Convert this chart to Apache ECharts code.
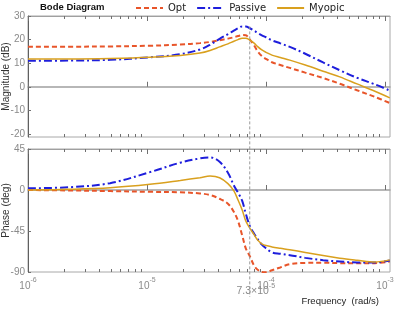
<!DOCTYPE html>
<html>
<head>
<meta charset="utf-8">
<script src="https://cdn.jsdelivr.net/npm/echarts@6/dist/echarts.min.js"></script>
<style>html,body{margin:0;padding:0;background:#fff}#c{width:394px;height:314px}</style>
</head>
<body>
<div id="c"></div>
<script>
// frequency as log10(rad/s)
var freqExp = [-6.00,-5.65,-5.31,-4.975,-4.72,-4.555,-4.47,-4.39,-4.32,-4.27,-4.235,-4.20,-4.17,-4.135,-4.10,-4.07,-4.035,-4.00,-3.95,-3.88,-3.80,-3.67,-3.52,-3.38,-3.235,-3.085,-2.96];
var magOpt     = [17.0,17.0,17.1,17.4,17.9,18.5,19.0,19.7,20.4,21.0,21.5,21.9,21.8,20.0,17.5,15.0,13.0,11.8,10.4,9.2,8.0,6.0,3.7,1.3,-1.5,-4.3,-6.9];
var magPassive = [11.0,11.1,11.4,12.5,13.8,15.8,17.8,20.3,22.3,23.8,24.8,25.6,25.6,24.8,23.8,22.8,21.8,21.0,19.7,18.4,16.9,14.0,10.3,7.0,3.8,1.0,-1.6];
var magMyopic  = [11.8,11.8,12.0,12.5,13.3,14.3,15.4,16.9,18.2,19.3,20.0,20.6,20.6,19.8,18.5,17.0,15.6,14.6,13.4,12.4,11.3,9.2,6.6,4.2,1.2,-1.9,-4.7];
var phOpt      = [0,-0.5,-1.2,-2,-2.5,-3.8,-5.5,-9.6,-15,-24,-34,-50,-64,-73,-83,-87.5,-90,-90.3,-88,-85,-81.4,-80,-79.8,-80.3,-80.5,-80.3,-78.5];
var phPassive  = [1.9,3.0,7.5,19.6,30.0,34.7,35.8,31.0,19,5,-3,-12,-26,-40,-48,-54,-60,-64,-68.5,-70,-71.5,-74.5,-77,-78.5,-79.5,-79.5,-77.4];
var phMyopic   = [0,0.8,2.5,6.3,10.5,13.5,15.3,13.5,7,-1,-11,-22,-34,-42,-49,-55,-59,-61,-62.5,-64,-65.6,-68.5,-72,-74.8,-77,-79,-76.7];
var seriesNames = ['Opt','Passive','Myopic'];
var magTicks = [-20,-10,0,10,20,30];
var phaseTicks = [-90,-45,0,45];
var majorExp = [-6,-5,-4,-3];
var markerFreq = 7.3e-5;
var markerLabel = '7.3×10';
var markerLabelExp = '-5';

var minorExp = [];
[-6,-5,-4].forEach(function(d){ for (var k=2;k<=9;k++) minorExp.push(d+Math.log10(k)); });
var markerExp = Math.log10(markerFreq);

var colors = {Opt:'#E8552A', Passive:'#1E1EDC', Myopic:'#D9A01E'};
var lineStyles = {
  Opt:{type:[5,3], width:2},
  Passive:{type:[8,3,2,3], width:2},
  Myopic:{type:'solid', width:1.5}
};
var FONT = 'Liberation Sans';
function mkRich(size){
  return {
    b:{fontSize:size, color:'#8a8a8a', fontFamily:FONT, lineHeight:14, verticalAlign:'bottom'},
    s:{fontSize:7, color:'#8a8a8a', fontFamily:FONT, lineHeight:14, verticalAlign:'top'}
  };
}
function pairs(v){ return freqExp.map(function(f,i){ return [f, v[i]]; }); }

var grids = [
  {left:28, top:16, width:362, height:121, show:true, borderColor:'#a8a8a8', borderWidth:1, outerBoundsMode:'none'},
  {left:28, top:149, width:362, height:123, show:true, borderColor:'#a8a8a8', borderWidth:1, outerBoundsMode:'none'}
];
var xAxes = [];
[0,1].forEach(function(g){
  ['bottom','top'].forEach(function(pos){
    xAxes.push({gridIndex:g, type:'value', min:-6, max:-2.958, position:pos,
      axisLine:{show:true, lineStyle:{color:'#a0a0a0', width:pos==='bottom'?1.5:1}},
      axisTick:{show:true, inside:true, length:5, customValues:majorExp, lineStyle:{color:'#707070'}},
      axisLabel:(g===1 && pos==='bottom') ? {show:true, customValues:majorExp, margin:5, rich:mkRich(10),
        formatter:function(v){ return '{b|10}{s|' + Math.round(v) + '}'; }} : {show:false},
      splitLine:{show:false}});
    xAxes.push({gridIndex:g, type:'value', min:-6, max:-2.958, position:pos,
      axisLine:{show:false},
      axisTick:{show:true, inside:true, length:3, customValues:minorExp, lineStyle:{color:'#707070'}},
      axisLabel:{show:false}, splitLine:{show:false}});
  });
});
xAxes.push({gridIndex:1, type:'value', min:-6, max:-2.958, position:'bottom',
  axisLine:{show:false}, axisTick:{show:false}, splitLine:{show:false},
  axisLabel:{show:true, customValues:[markerExp], margin:11, rich:mkRich(10.5), padding:[0,0,0,12],
    formatter:function(){ return '{b|' + markerLabel + '}{s|' + markerLabelExp + '}'; }}});

function yAxis(g, min, max, ticks){
  return {gridIndex:g, type:'value', min:min, max:max, position:'left',
    axisLine:{show:true, lineStyle:{color:'#606060'}},
    axisTick:{show:true, inside:true, length:3, customValues:ticks, lineStyle:{color:'#707070'}},
    axisLabel:{customValues:ticks, margin:3, fontFamily:FONT, fontSize:10, color:'#8a8a8a'},
    splitLine:{show:false}};
}

var series = [];
var magData = {Opt:magOpt, Passive:magPassive, Myopic:magMyopic};
var phData = {Opt:phOpt, Passive:phPassive, Myopic:phMyopic};
[0,1].forEach(function(g){
  seriesNames.forEach(function(n){
    series.push({name:n, type:'line', xAxisIndex:g*4, yAxisIndex:g, showSymbol:false, symbol:'none',
      smooth:0.35, color:colors[n],
      lineStyle:{color:colors[n], type:lineStyles[n].type, width:lineStyles[n].width},
      data:pairs(g===0?magData[n]:phData[n]), z:3});
  });
});

var chart = echarts.init(document.getElementById('c'), null, {renderer:'canvas'});
chart.setOption({
  animation:false,
  grid:grids,
  xAxis:xAxes,
  yAxis:[yAxis(0,-21.3,30,magTicks), yAxis(1,-90,45,phaseTicks)],
  legend:{data:seriesNames, left:130, top:-2, itemWidth:27, itemHeight:10, itemGap:10,
    itemStyle:{opacity:0},
    textStyle:{fontFamily:'DejaVu Sans', fontSize:10, color:'#222'}},
  series:series
});
var px = chart.convertToPixel({xAxisIndex:0}, markerExp);
var yTop = chart.convertToPixel({yAxisIndex:0}, 25.6);
var yBot = chart.convertToPixel({yAxisIndex:1}, -90) + 25;
var magMid = (chart.convertToPixel({yAxisIndex:0}, 30) + chart.convertToPixel({yAxisIndex:0}, -21.3)) / 2;
var phMid = (chart.convertToPixel({yAxisIndex:1}, 45) + chart.convertToPixel({yAxisIndex:1}, -90)) / 2;
chart.setOption({graphic:[
  {type:'line', shape:{x1:px, y1:yTop, x2:px, y2:yBot}, style:{stroke:'#9a9a9a', lineWidth:1, lineDash:[3,2]}, z:10},
  {type:'text', left:40, top:2, style:{text:'Bode Diagram', font:'bold 9.5px "Liberation Sans"', fill:'#111'}},
  {type:'text', right:15, top:296, style:{text:'Frequency  (rad/s)', font:'9.5px "Liberation Sans"', fill:'#222'}},
  {type:'text', x:6, y:magMid, rotation:Math.PI/2, style:{text:'Magnitude (dB)', font:'10px "Liberation Sans"', fill:'#333', align:'center', verticalAlign:'middle'}},
  {type:'text', x:6, y:phMid, rotation:Math.PI/2, style:{text:'Phase (deg)', font:'10px "Liberation Sans"', fill:'#333', align:'center', verticalAlign:'middle'}}
]});
</script>
</body>
</html>
